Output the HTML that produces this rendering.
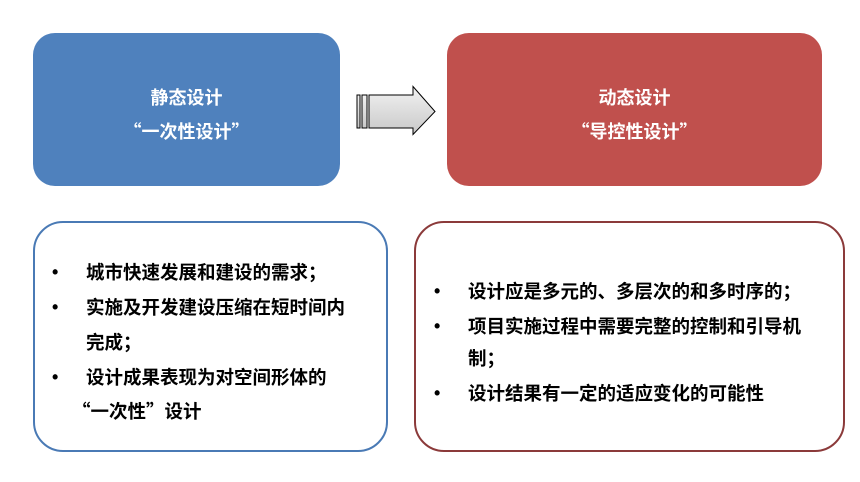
<!DOCTYPE html>
<html><head><meta charset="utf-8"><style>
body{margin:0;width:860px;height:482px;background:#fff;position:relative;overflow:hidden;font-family:"Liberation Sans","Noto Sans CJK SC",sans-serif;}
.box{position:absolute;box-sizing:border-box;}
.top{color:#fff;font-weight:bold;font-size:18px;text-align:center;border-radius:22px;font-family:"Noto Sans CJK SC",sans-serif;}
.top div{position:absolute;left:0;right:0;line-height:20px;}
.t{position:absolute;font-size:18.5px;font-weight:bold;color:#000;white-space:nowrap;line-height:20px;font-family:"Noto Sans CJK SC",sans-serif;}
.b{position:absolute;font-size:18px;font-weight:bold;line-height:20px;}
</style></head><body>
<div class="box top" style="left:33px;top:33px;width:307px;height:153px;background:#4f81bd;">
<div style="top:54px">静态设计</div><div style="top:88px">“一次性设计”</div></div>
<div class="box top" style="left:447px;top:33px;width:375px;height:153px;background:#c0504d;">
<div style="top:54px">动态设计</div><div style="top:88px">“导控性设计”</div></div>
<svg style="position:absolute;left:350px;top:85px" width="95" height="55">
<defs><linearGradient id="g" x1="0" y1="0" x2="0" y2="1"><stop offset="0" stop-color="#f2f2f2"/><stop offset="1" stop-color="#c8c8c8"/></linearGradient></defs>
<rect x="7" y="10" width="3" height="33" fill="url(#g)" stroke="#000" stroke-width="1"/>
<rect x="12" y="10" width="5" height="33" fill="url(#g)" stroke="#000" stroke-width="1"/>
<path d="M19 8 H63 V-0.5 L85 24.5 L63 47.5 V41 H19 Z" transform="translate(0,2)" fill="url(#g)" stroke="#000" stroke-width="1"/>
</svg>
<div class="box" style="left:33px;top:221px;width:355px;height:231px;border:2px solid #4a7ab5;border-radius:30px;"></div>
<div class="box" style="left:414px;top:221px;width:431px;height:231px;border:2px solid #8b3a3a;border-radius:30px;"></div>
<div class="b" style="left:52px;top:262px">•</div><div class="t" style="left:86px;top:262px">城市快速发展和建设的需求；</div>
<div class="b" style="left:52px;top:297px">•</div><div class="t" style="left:86px;top:297px">实施及开发建设压缩在短时间内</div>
<div class="t" style="left:86px;top:332px">完成；</div>
<div class="b" style="left:52px;top:367px">•</div><div class="t" style="left:86px;top:367px">设计成果表现为对空间形体的</div>
<div class="t" style="left:72px;top:401px">“一次性”设计</div>
<div class="b" style="left:434px;top:281px">•</div><div class="t" style="left:468px;top:281px">设计应是多元的、多层次的和多时序的；</div>
<div class="b" style="left:434px;top:316px">•</div><div class="t" style="left:468px;top:316px">项目实施过程中需要完整的控制和引导机</div>
<div class="t" style="left:468px;top:348px">制；</div>
<div class="b" style="left:434px;top:383px">•</div><div class="t" style="left:468px;top:383px">设计结果有一定的适应变化的可能性</div>
</body></html>
